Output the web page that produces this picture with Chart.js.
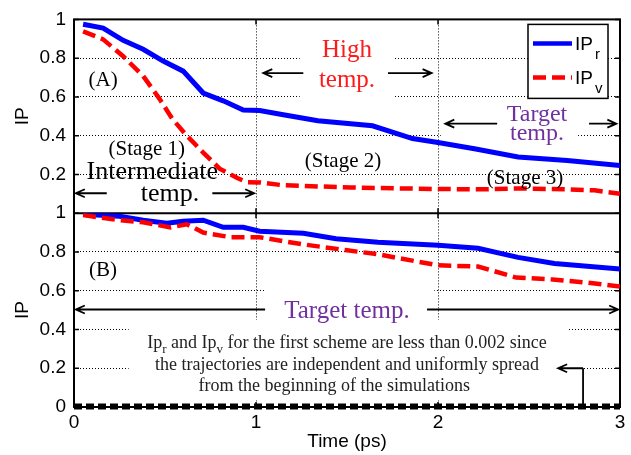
<!DOCTYPE html>
<html>
<head>
<meta charset="utf-8">
<title>IP vs time</title>
<script src="https://cdn.jsdelivr.net/npm/chart.js@4.4.1/dist/chart.umd.min.js"></script>
<style>
  html, body { margin: 0; padding: 0; background: #fff; }
</style>
</head>
<body>
<canvas id="ip" width="631" height="455"></canvas>
<script>
// Panel (A): three-stage scheme
var timeTopR = [0.05, 0.16, 0.27, 0.38, 0.49, 0.60, 0.71, 0.82, 0.93, 1.02, 1.15, 1.34, 1.64, 1.86, 2.00, 2.20, 2.44, 2.71, 3.00];
var ipTopR   = [0.975, 0.955, 0.892, 0.846, 0.785, 0.733, 0.620, 0.580, 0.533, 0.530, 0.508, 0.477, 0.451, 0.385, 0.365, 0.333, 0.290, 0.272, 0.246];
var timeTopV = [0.05, 0.16, 0.27, 0.38, 0.47, 0.54, 0.62, 0.71, 0.80, 0.90, 0.95, 1.02, 1.15, 1.52, 1.79, 2.00, 2.26, 2.44, 2.71, 2.86, 3.00];
var ipTopV   = [0.938, 0.897, 0.810, 0.708, 0.590, 0.487, 0.400, 0.313, 0.230, 0.180, 0.160, 0.159, 0.144, 0.133, 0.128, 0.125, 0.123, 0.128, 0.123, 0.118, 0.100];

// Panel (B): target temperature only
var timeBotR = [0.05, 0.25, 0.38, 0.51, 0.60, 0.71, 0.82, 0.93, 1.02, 1.26, 1.44, 1.67, 2.00, 2.22, 2.44, 2.64, 3.00];
var ipBotR   = [0.995, 0.984, 0.964, 0.948, 0.958, 0.964, 0.927, 0.927, 0.907, 0.896, 0.868, 0.850, 0.834, 0.819, 0.772, 0.741, 0.712];
var timeBotV = [0.05, 0.25, 0.38, 0.53, 0.62, 0.71, 0.86, 1.02, 1.26, 1.49, 1.67, 2.00, 2.22, 2.43, 2.63, 2.82, 3.00];
var ipBotV   = [0.990, 0.964, 0.953, 0.927, 0.943, 0.900, 0.876, 0.876, 0.839, 0.810, 0.788, 0.731, 0.725, 0.668, 0.658, 0.642, 0.622];

// first scheme (both below 0.002)
var timeFirst = [0, 3];
var ipFirst   = [0.002, 0.002];

var xTickStep = 1;
var yTickStep = 0.2;

var SERIF = "'Liberation Serif', 'Times New Roman', serif";
var SANS = "'Liberation Sans', Arial, sans-serif";
var PURPLE = '#7030a0';

// text labels, placed in data units (t, IP)
var labels = [
  { axis: 'yA', t: 0.16,  v: 0.69,  text: '(A)', size: 21 },
  { axis: 'yA', t: 1.5,   v: 0.846, text: 'High', size: 25, color: '#ff1a1a' },
  { axis: 'yA', t: 1.5,   v: 0.692, text: 'temp.', size: 25, color: '#ff1a1a' },
  { axis: 'yA', t: 0.40,  v: 0.338, text: '(Stage 1)', size: 21 },
  { axis: 'yA', t: 0.43,  v: 0.22,  text: 'Intermediate', size: 26 },
  { axis: 'yA', t: 0.527, v: 0.108, text: 'temp.', size: 26 },
  { axis: 'yA', t: 1.478, v: 0.272, text: '(Stage 2)', size: 21 },
  { axis: 'yA', t: 2.478, v: 0.185, text: '(Stage 3)', size: 21 },
  { axis: 'yA', t: 2.544, v: 0.518, text: 'Target', size: 24, color: PURPLE },
  { axis: 'yA', t: 2.544, v: 0.42,  text: 'temp.', size: 24, color: PURPLE },
  { axis: 'yB', t: 0.16,  v: 0.71,  text: '(B)', size: 21 },
  { axis: 'yB', t: 1.5,   v: 0.503, text: 'Target temp.', size: 25, color: PURPLE },
  { axis: 'yB', t: 1.5,   v: 0.337, size: 18, color: '#222', text: [
      { text: 'Ip' }, { text: 'r', sub: true }, { text: ' and Ip' }, { text: 'v', sub: true },
      { text: ' for the first scheme are less than 0.002 since' }] },
  { axis: 'yB', t: 1.5,   v: 0.223, size: 18, color: '#222', text: 'the trajectories are independent and uniformly spread' },
  { axis: 'yB', t: 1.43,  v: 0.114, size: 18, color: '#222', text: 'from the beginning of the simulations' }
];

// horizontal arrows: head at "to"
var arrows = [
  { axis: 'yA', v: 0.103, from: 0.18, to: 0.01 },
  { axis: 'yA', v: 0.103, from: 0.76, to: 0.99 },
  { axis: 'yA', v: 0.723, from: 1.26, to: 1.04 },
  { axis: 'yA', v: 0.723, from: 1.725, to: 1.965 },
  { axis: 'yA', v: 0.462, from: 2.325, to: 2.04 },
  { axis: 'yA', v: 0.462, from: 2.83, to: 2.98 },
  { axis: 'yB', v: 0.503, from: 1.05, to: 0.01 },
  { axis: 'yB', v: 0.503, from: 1.94, to: 2.99 }
];

// white patches behind text that break the grid
var covers = [
  { axis: 'yA', t: [1.24, 1.76], v: [0.58, 0.92] },
  { axis: 'yA', t: [2.015, 2.77], v: [0.35, 0.55] },
  { axis: 'yB', t: [1.05, 1.98], v: [0.455, 0.62] },
  { axis: 'yB', t: [0.30, 2.72], v: [0.035, 0.45] }
];

function pts(xs, ys) {
  return xs.map(function (x, i) { return { x: x, y: ys[i] }; });
}

function drawRich(ctx, parts, cx, cy, size, family, color) {
  var subSize = Math.round(size * 0.7);
  var w = 0;
  parts.forEach(function (p) {
    ctx.font = (p.sub ? subSize : size) + 'px ' + family;
    w += ctx.measureText(p.text).width;
  });
  var x = cx - w / 2;
  var base = cy + size * 0.33;
  ctx.textAlign = 'left';
  ctx.textBaseline = 'alphabetic';
  ctx.fillStyle = color;
  parts.forEach(function (p) {
    ctx.font = (p.sub ? subSize : size) + 'px ' + family;
    ctx.fillText(p.text, x, base + (p.sub ? size * 0.28 : 0));
    x += ctx.measureText(p.text).width;
  });
}

function hArrow(ctx, x1, y, x2) {
  var d = x2 > x1 ? -1 : 1;
  ctx.beginPath();
  ctx.moveTo(x1, y);
  ctx.lineTo(x2, y);
  ctx.moveTo(x2 + d * 9, y - 4);
  ctx.lineTo(x2, y);
  ctx.lineTo(x2 + d * 9, y + 4);
  ctx.stroke();
}

var annotate = {
  id: 'annotate',
  beforeDatasetsDraw: function (chart) {
    var ctx = chart.ctx, a = chart.chartArea, s = chart.scales;
    ctx.save();
    ctx.fillStyle = '#fff';
    covers.forEach(function (c) {
      var x1 = s.x.getPixelForValue(c.t[0]), x2 = s.x.getPixelForValue(c.t[1]);
      var y1 = s[c.axis].getPixelForValue(c.v[1]), y2 = s[c.axis].getPixelForValue(c.v[0]);
      ctx.fillRect(x1, y1, x2 - x1, y2 - y1);
    });

    // frame + divider
    ctx.strokeStyle = '#000';
    ctx.lineWidth = 2;
    ctx.strokeRect(a.left, a.top, a.width, a.height);
    var mid = s.yB.getPixelForValue(1);
    ctx.beginPath();
    ctx.moveTo(a.left, mid);
    ctx.lineTo(a.right, mid);
    ctx.stroke();

    // inward ticks (matlab style)
    ctx.lineWidth = 1.5;
    ctx.beginPath();
    ['yA', 'yB'].forEach(function (ax) {
      for (var v = 0; v <= 1.0001; v += yTickStep) {
        var y = s[ax].getPixelForValue(v);
        ctx.moveTo(a.left, y); ctx.lineTo(a.left + 5, y);
        ctx.moveTo(a.right, y); ctx.lineTo(a.right - 5, y);
      }
    });
    for (var t = 0; t <= 3; t += xTickStep) {
      var x = s.x.getPixelForValue(t);
      ctx.moveTo(x, a.top); ctx.lineTo(x, a.top + 5);
      ctx.moveTo(x, mid - 5); ctx.lineTo(x, mid + 5);
      ctx.moveTo(x, a.bottom); ctx.lineTo(x, a.bottom - 5);
    }
    ctx.stroke();
    ctx.restore();
  },
  afterDatasetsDraw: function (chart) {
    var ctx = chart.ctx, a = chart.chartArea, s = chart.scales;
    ctx.save();

    labels.forEach(function (l) {
      var parts = typeof l.text === 'string' ? [{ text: l.text }] : l.text;
      drawRich(ctx, parts, s.x.getPixelForValue(l.t), s[l.axis].getPixelForValue(l.v),
        l.size, SERIF, l.color || '#000');
    });

    ctx.strokeStyle = '#000';
    ctx.lineWidth = 1.8;
    arrows.forEach(function (r) {
      hArrow(ctx, s.x.getPixelForValue(r.from), s[r.axis].getPixelForValue(r.v), s.x.getPixelForValue(r.to));
    });

    // pointer from the note down to the first-scheme line
    var px = s.x.getPixelForValue(2.797), py = s.yB.getPixelForValue(0.2);
    ctx.beginPath();
    ctx.moveTo(px, s.yB.getPixelForValue(0));
    ctx.lineTo(px, py);
    ctx.stroke();
    hArrow(ctx, px, py, s.x.getPixelForValue(2.66));

    // legend
    var lx = a.right - 92, ly = a.top + 5;
    ctx.fillStyle = '#fff';
    ctx.fillRect(lx, ly, 80, 74);
    ctx.lineWidth = 1.5;
    ctx.strokeRect(lx, ly, 80, 74);
    ctx.lineWidth = 4.5;
    ctx.strokeStyle = '#0000ff';
    ctx.beginPath(); ctx.moveTo(lx + 5, ly + 19); ctx.lineTo(lx + 44, ly + 19); ctx.stroke();
    ctx.strokeStyle = '#ff0000';
    ctx.setLineDash([13, 6]);
    ctx.beginPath(); ctx.moveTo(lx + 5, ly + 53); ctx.lineTo(lx + 44, ly + 53); ctx.stroke();
    ctx.setLineDash([]);
    ctx.fillStyle = '#000';
    ctx.textAlign = 'left';
    ctx.textBaseline = 'alphabetic';
    ctx.font = '19px ' + SANS;
    ctx.fillText('IP', lx + 47, ly + 26);
    ctx.fillText('IP', lx + 47, ly + 60);
    ctx.font = '15px ' + SANS;
    ctx.fillText('r', lx + 67, ly + 35);
    ctx.fillText('v', lx + 67, ly + 69);
    ctx.restore();
  }
};

function tickLabel(v) {
  return String(Number(v.toFixed(1)));
}

function yAxis(hideZero) {
  return {
    type: 'linear',
    position: 'left',
    stack: 'ip',
    stackWeight: 1,
    min: 0,
    max: 1,
    afterFit: function (scale) { scale.width = 74; },
    ticks: {
      stepSize: yTickStep,
      autoSkip: false,
      color: '#000',
      font: { size: 19 },
      padding: 8,
      callback: function (v) { return (hideZero && Math.abs(v) < 1e-9) ? '' : tickLabel(v); }
    },
    grid: { color: '#000', lineWidth: 1, drawTicks: false },
    border: { display: false, dash: [1, 2] },
    title: { display: true, text: 'IP', color: '#000', font: { size: 19 }, padding: { top: 11, bottom: 0 } }
  };
}

Chart.defaults.font.family = SANS;

new Chart(document.getElementById('ip'), {
  type: 'line',
  data: {
    datasets: [
      // red (order 0) is drawn above blue (order 1)
      { label: 'IPr', data: pts(timeTopR, ipTopR), yAxisID: 'yA', borderColor: '#0000ff', borderWidth: 5, order: 1 },
      { label: 'IPv', data: pts(timeTopV, ipTopV), yAxisID: 'yA', borderColor: '#ff0000', borderWidth: 4.5, borderDash: [13, 6], order: 0 },
      { label: 'IPr', data: pts(timeBotR, ipBotR), yAxisID: 'yB', borderColor: '#0000ff', borderWidth: 5, order: 1 },
      { label: 'IPv', data: pts(timeBotV, ipBotV), yAxisID: 'yB', borderColor: '#ff0000', borderWidth: 4.5, borderDash: [13, 6], order: 0 },
      { label: 'first scheme', data: pts(timeFirst, ipFirst), yAxisID: 'yB', borderColor: '#000', borderWidth: 6, borderDash: [8, 4], clip: 8, order: 0 }
    ]
  },
  options: {
    responsive: false,
    animation: false,
    layout: { padding: { top: 18, right: 11, bottom: 0, left: 0 } },
    elements: { point: { radius: 0 }, line: { tension: 0, fill: false } },
    plugins: { legend: { display: false }, tooltip: { enabled: false } },
    scales: {
      x: {
        type: 'linear',
        min: 0,
        max: 3,
        afterFit: function (scale) { scale.height = 48; },
        ticks: { stepSize: xTickStep, autoSkip: false, color: '#000', font: { size: 19 }, padding: 4, maxRotation: 0 },
        grid: { color: '#000', lineWidth: 1, drawTicks: false },
        border: { display: false, dash: [1, 2] },
        title: { display: true, text: 'Time (ps)', color: '#000', font: { size: 19 }, padding: { top: 0, bottom: 2 } }
      },
      // the later axis in a stack is laid out on top
      yB: yAxis(false),
      yA: yAxis(true)
    }
  },
  plugins: [annotate]
});
</script>
</body>
</html>
